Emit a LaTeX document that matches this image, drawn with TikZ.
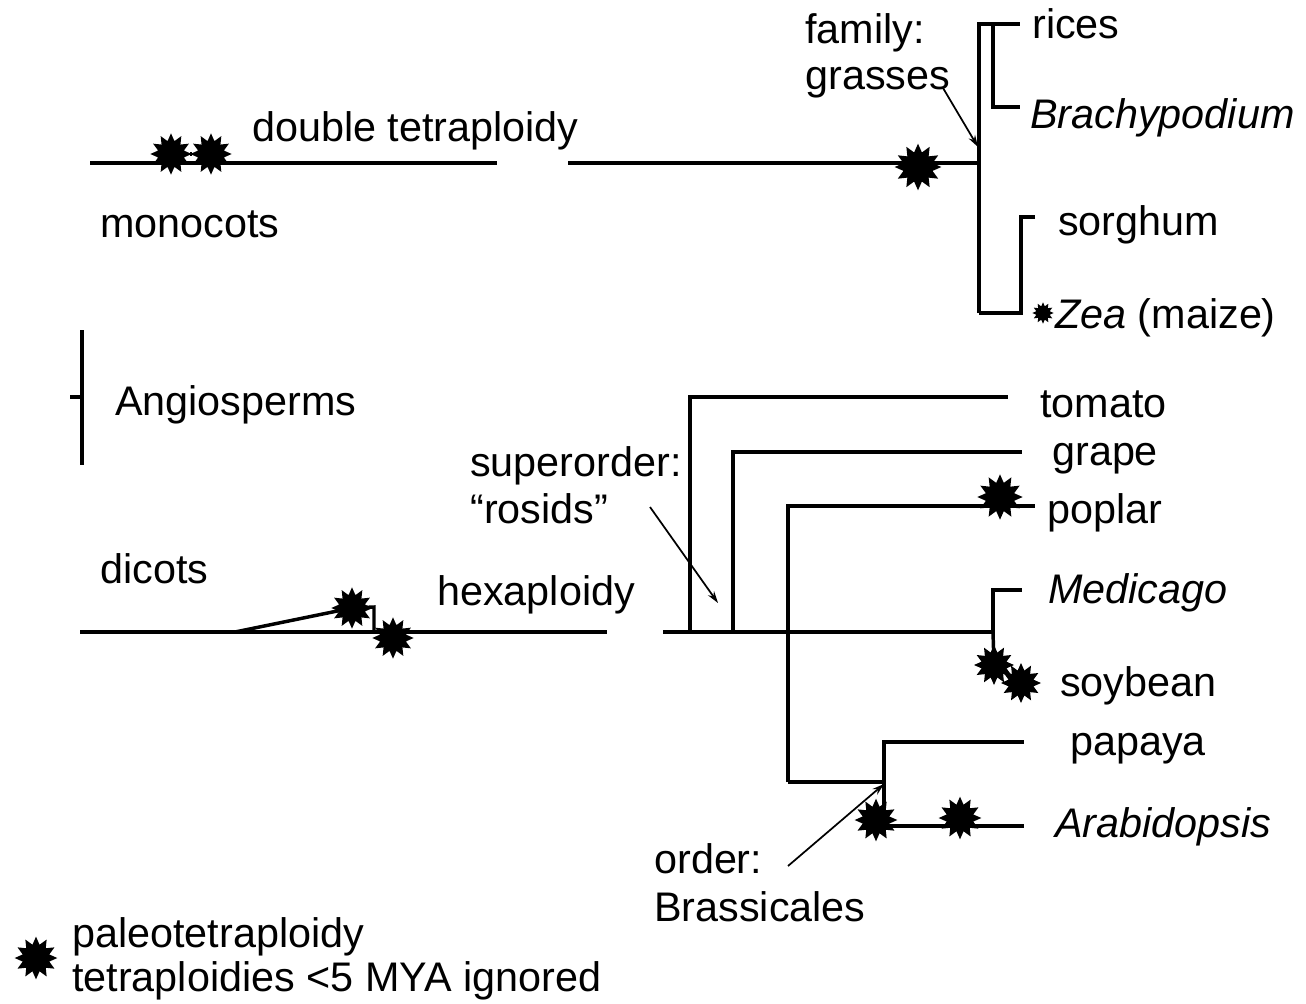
\documentclass[tikz,border=0pt]{standalone}
\usepackage{fontspec}
\setmainfont{Liberation Sans}
\usetikzlibrary{shapes.geometric,arrows.meta}
\begin{document}
\begin{tikzpicture}[x=0.75pt,y=-0.75pt,
  br/.style={line width=2.6pt},
  burst/.style={star,star points=12,star point ratio=1.55,fill=black,draw=none,inner sep=0pt,minimum size=#1},
  lbl/.style={anchor=base west,inner sep=0pt,font=\fontsize{31}{36}\selectfont},
  pointer/.style={line width=1.3pt,-{Stealth[length=9pt,width=5.5pt]}}]
\useasboundingbox (0,0) rectangle (1306,1003);

% ---------- monocots ----------
\coordinate (mL) at (90,163);
\coordinate (mG1) at (497,163);
\coordinate (mG2) at (568,163);
\coordinate (gr) at (979,163);
\coordinate (gTop) at (979,24);
\coordinate (gBot) at (979,313);
\coordinate (riceE) at (1020,24);
\coordinate (bTop) at (993,24);
\coordinate (bBot) at (993,107);
\coordinate (brachE) at (1020,107);
\coordinate (sTop) at (1021,217);
\coordinate (sorgE) at (1035,217);
\coordinate (zBot) at (1021,313);

\draw[br] (mL) -- (mG1);
\draw[br] (mG2) -- (gr);
\draw[br] (gBot) -- (gTop) -- (riceE);
\draw[br] (bTop) -- (bBot) -- (brachE);
\draw[br] (sorgE) -- (sTop) -- (zBot) -- (gBot);

\node[burst=31pt] (m1) at (171,154) {};
\node[burst=31pt] (m2) at (211,154) {};
\draw[br] (m1) -- (m2);
\node[burst=35pt] (m3) at (918,167) {};
\node[burst=16pt] (z1) at (1043,313) {};

\node[lbl] (famA) at (805,43) {family:};
\node[lbl] (famB) at (805,89) {grasses};
\coordinate (grArrow) at (978,147);
\draw[pointer] (943,88) -- (grArrow);

\node[lbl] (rices) at (1032,38) {rices};
\node[lbl] (brach) at (1030,128) {\itshape Brachypodium};
\node[lbl] (sorg) at (1058,235) {sorghum};
\node[lbl] (zea) at (1055,328) {\textit{Zea} (maize)};
\node[lbl] (dt) at (252,141) {double tetraploidy};
\node[lbl] (mono) at (100,237) {monocots};

% ---------- angiosperms ----------
\coordinate (aTop) at (82,330);
\coordinate (aBot) at (82,465);
\coordinate (aMid) at (82,397);
\coordinate (aTick) at (70,397);
\draw[br] (aTop) -- (aBot);
\draw[br] (aTick) -- (aMid);
\node[lbl] (angio) at (115,415) {Angiosperms};

% ---------- dicots ----------
\coordinate (dL) at (80,632);
\coordinate (dG1) at (607,632);
\coordinate (dG2) at (663,632);
\coordinate (dR) at (993,632);
\coordinate (dDiag) at (235,632);
\coordinate (dStep) at (374,607);
\coordinate (dStepB) at (374,632);
\draw[br] (dL) -- (dG1);
\draw[br] (dG2) -- (dR);
\node[burst=31pt] (h1) at (352,608) {};
\node[burst=31pt] (h2) at (393,638) {};
\draw[br] (dDiag) -- (h1.center);
\draw[br] (h1.center) -- (dStep) -- (dStepB);

\node[lbl] (dic) at (100,583) {dicots};
\node[lbl] (hexa) at (437,605) {hexaploidy};

% rosids
\coordinate (tB) at (690,632);
\coordinate (tT) at (690,397);
\coordinate (tE) at (1008,397);
\coordinate (gB) at (733,632);
\coordinate (gT) at (733,452);
\coordinate (gE) at (1022,452);
\coordinate (pB) at (788,782);
\coordinate (pT) at (788,506);
\coordinate (pE) at (1035,506);
\draw[br] (tB) -- (tT) -- (tE);
\draw[br] (gB) -- (gT) -- (gE);
\draw[br] (pB) -- (pT) -- (pE);
\node[burst=34pt] (pop) at (1000,497) {};

\coordinate (medT) at (993,590);
\coordinate (medE) at (1022,590);
\draw[br] (dR) -- (medT) -- (medE);
\node[burst=30pt] (soy1) at (994,665) {};
\node[burst=30pt] (soy2) at (1021,683) {};
\draw[br] (dR) -- (soy1.center);
\draw[br] (soy1.center) -- (soy2.center);

% Brassicales
\coordinate (brJ) at (884,782);
\coordinate (papT) at (884,742);
\coordinate (papE) at (1024,742);
\coordinate (araB) at (884,826);
\coordinate (araE) at (1024,826);
\draw[br] (pB) -- (brJ);
\draw[br] (araB) -- (papT) -- (papE);
\draw[br] (araB) -- (araE);
\node[burst=32pt] (a1) at (876,820) {};
\node[burst=32pt] (a2) at (960,818) {};

\node[lbl] (supA) at (470,476) {superorder:};
\node[lbl] (supB) at (470,523) {“rosids”};
\coordinate (rosArrow) at (718,603);
\draw[pointer] (650,507) -- (rosArrow);

\node[lbl] (ordA) at (654,873) {order:};
\node[lbl] (ordB) at (654,921) {Brassicales};
\coordinate (brArrow) at (884,784);
\draw[pointer] (788,866) -- (brArrow);

\node[lbl] (tom) at (1040,417) {tomato};
\node[lbl] (grp) at (1052,465) {grape};
\node[lbl] (popl) at (1047,523) {poplar};
\node[lbl] (med) at (1048,603) {\itshape Medicago};
\node[lbl] (soy) at (1060,696) {soybean};
\node[lbl] (pap) at (1070,755) {papaya};
\node[lbl] (ara) at (1055,837) {\itshape Arabidopsis};

% legend
\node[burst=32pt] (leg) at (36,958) {};
\node[lbl] (legA) at (72,947) {paleotetraploidy};
\node[lbl] (legB) at (72,991) {tetraploidies <5 MYA ignored};
\end{tikzpicture}
\end{document}
